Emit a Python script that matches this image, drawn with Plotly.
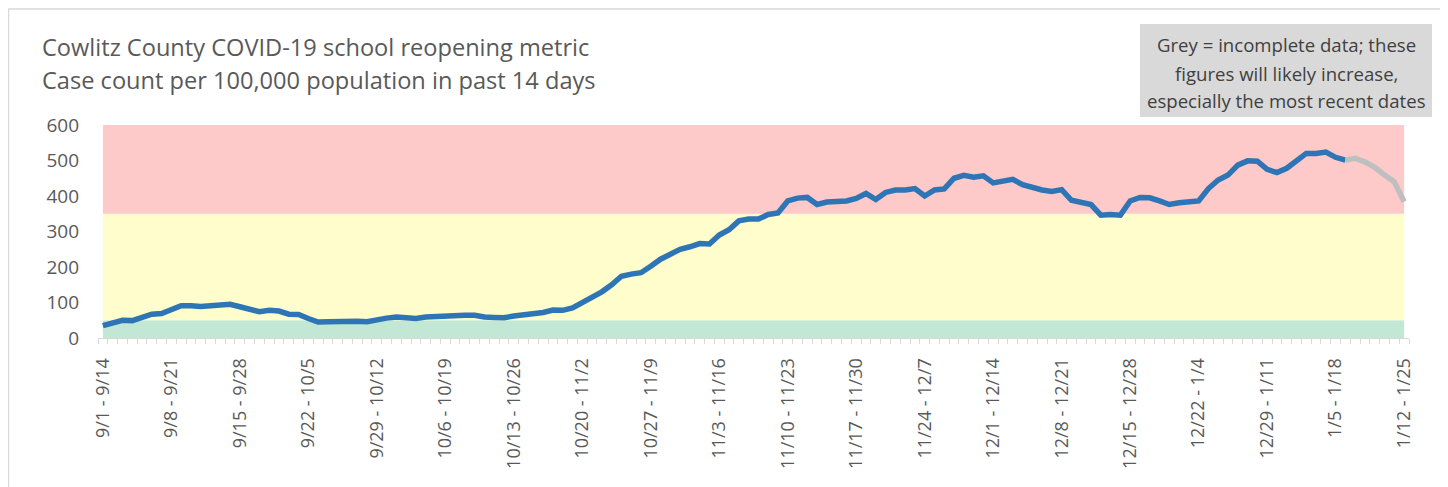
import plotly.graph_objects as go

# 14-day rolling case rate per 100,000 (one point per day, windows 9/1-9/14 ... 1/12-1/25)
rate_complete = [
    35, 42, 50, 49, 58, 67, 69, 80, 91, 91,
    89, 91, 94, 95, 88, 79, 74, 78, 76, 67,
    66, 55, 45, 46, 47, 47, 47, 46, 52, 56,
    59, 57, 55, 59, 61, 63, 64, 64, 64, 59,
    58, 57, 62, 65, 71, 72, 79, 78, 85, 100,
    114, 130, 150, 174, 180, 184, 202, 222, 236, 250,
    257, 266, 265, 290, 305, 330, 335, 335, 348, 352,
    386, 394, 396, 376, 383, 383, 386, 393, 407, 390,
    410, 417, 417, 421, 400, 417, 420, 450, 458, 453,
    457, 437, 441, 447, 432, 424, 417, 413, 418, 388,
    382, 376, 346, 348, 346, 386, 396, 395, 386, 376,
    381, 382, 386, 421, 445, 459, 487, 499, 498, 475,
    466, 478, 501, 520, 520, 524, 509, 501,
]
rate_incomplete = [501, 506, 496, 481, 459, 440, 384]

tick_labels = [
    "9/1 - 9/14", "9/8 - 9/21", "9/15 - 9/28", "9/22 - 10/5", "9/29 - 10/12",
    "10/6 - 10/19", "10/13 - 10/26", "10/20 - 11/2", "10/27 - 11/9", "11/3 - 11/16",
    "11/10 - 11/23", "11/17 - 11/30", "11/24 - 12/7", "12/1 - 12/14", "12/8 - 12/21",
    "12/15 - 12/28", "12/22 - 1/4", "12/29 - 1/11", "1/5 - 1/18", "1/12 - 1/25",
]

title_lines = [
    "Cowlitz County COVID-19 school reopening metric",
    "Case count per 100,000 population in past 14 days",
]
note_lines = [
    "Grey = incomplete data; these",
    "figures will likely increase,",
    "especially the most recent dates",
]

band_limits = [50, 350, 600]   # green: low, yellow: moderate, red: high
band_colors = ["#C2E8D5", "#FFFDCC", "#FDC9C9"]

n_points = len(rate_complete) + len(rate_incomplete) - 1
x_all = list(range(n_points))
x_complete = x_all[:len(rate_complete)]
x_incomplete = x_all[len(rate_complete) - 1:]
tick_positions = x_all[::7]

# layout geometry (page pixels; the page body adds an 8px offset)
PAGE_OFF = 8
FIG_W, FIG_H = 1448 - PAGE_OFF, 487 - PAGE_OFF
PLOT_L, PLOT_R, PLOT_T, PLOT_B = 98, 1409, 125, 338
PW, PH = PLOT_R - PLOT_L, PLOT_B - PLOT_T


def px(X):
    return (X - PLOT_L) / PW


def py(Y):
    return (PLOT_B - Y) / PH


fig = go.Figure()

prev = 0
for lim, col in zip(band_limits, band_colors):
    fig.add_trace(go.Scatter(
        x=x_all, y=[lim - prev] * n_points, stackgroup="bands",
        mode="none", fillcolor=col, hoverinfo="skip", showlegend=False,
    ))
    prev = lim

fig.add_trace(go.Scatter(
    x=x_complete, y=rate_complete, mode="lines",
    line=dict(color="#2E75B6", width=5.5), showlegend=False,
))
fig.add_trace(go.Scatter(
    x=x_incomplete, y=rate_incomplete, mode="lines",
    line=dict(color="#BFBFBF", width=5.5), showlegend=False,
))

font_family = "Open Sans, Liberation Sans, sans-serif"

annotations = []
for text, Y in zip(title_lines, [47, 80]):
    annotations.append(dict(
        text=text, xref="paper", yref="paper", x=px(40), y=py(Y),
        xanchor="left", yanchor="middle", showarrow=False,
        font=dict(size=23.6, color="#595959", family=font_family),
    ))
for text, Y in zip(note_lines, [45, 73, 101]):
    annotations.append(dict(
        text=text, xref="paper", yref="paper", x=px(1286), y=py(Y),
        xanchor="center", yanchor="middle", showarrow=False,
        font=dict(size=18.6, color="#404040", family=font_family),
    ))

fig.update_layout(
    width=FIG_W, height=FIG_H,
    margin=dict(l=PLOT_L - PAGE_OFF, r=FIG_W - (PLOT_R - PAGE_OFF),
                t=PLOT_T - PAGE_OFF, b=FIG_H - (PLOT_B - PAGE_OFF)),
    paper_bgcolor="white", plot_bgcolor="white",
    font=dict(family=font_family, color="#595959"),
    xaxis=dict(
        range=[-0.5, n_points - 0.5],
        tickmode="array", tickvals=tick_positions, ticktext=tick_labels,
        tickangle=-90, tickfont=dict(size=18, color="#595959"),
        ticklabelstandoff=12,
        showgrid=False, zeroline=False,
        showline=True, linecolor="#D9D9D9", linewidth=1,
        ticks="",
        minor=dict(ticks="outside", tick0=-0.5, dtick=1, ticklen=5,
                   tickcolor="#D9D9D9", showgrid=False),
    ),
    yaxis=dict(
        range=[0, 600], tickvals=[0, 100, 200, 300, 400, 500, 600],
        tickfont=dict(size=19, color="#595959"),
        showgrid=False, zeroline=False, showline=False, ticks="",
        ticklabelstandoff=18,
    ),
    shapes=[
        dict(type="rect", xref="paper", yref="paper",
             x0=px(8.5), x1=px(1446), y0=py(600), y1=py(9),
             line=dict(color="#D9D9D9", width=1.5), fillcolor="rgba(0,0,0,0)",
             layer="below"),
        dict(type="rect", xref="paper", yref="paper",
             x0=px(1140), x1=px(1432), y0=py(117), y1=py(24),
             line=dict(width=0), fillcolor="#D9D9D9", layer="below"),
    ],
    annotations=annotations,
)

fig.write_html("out.html")
